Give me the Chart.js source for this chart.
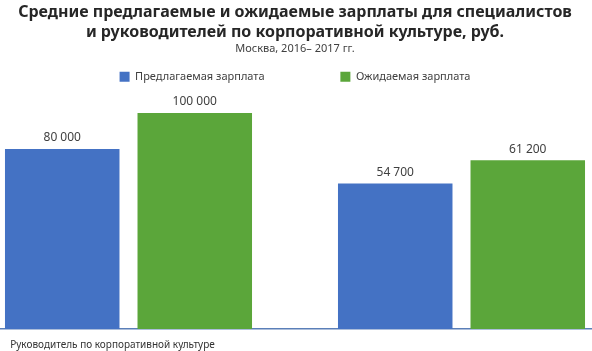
<!DOCTYPE html>
<html>
<head>
<meta charset="utf-8">
<script src="https://cdn.jsdelivr.net/npm/chart.js@4"></script>
<style>
    html, body { margin: 0; padding: 0; background: #fff; overflow: hidden; }
    #wrap { position: absolute; left: -38px; top: 0; width: 666px; height: 355px; }
</style>
</head>
<body>
<div id="wrap"><canvas id="salaryChart"></canvas></div>
<script>
    const categories = ['Руководитель по корпоративной культуре', ''];
    const seriesNames = ['Предлагаемая зарплата', 'Ожидаемая зарплата'];
    // bar heights (the picture's bars are not to the scale of their labels)
    const offeredValues = [83300, 67400];
    const expectedValues = [100000, 78100];
    // value labels as printed above the bars
    const offeredLabels = ['80 000', '54 700'];
    const expectedLabels = ['100 000', '61 200'];

    const FONT = '"Noto Sans", "DejaVu Sans", sans-serif';

    const barLabelsPlugin = {
        id: 'barLabels',
        afterDatasetsDraw(chart, args, opts) {
            const ctx = chart.ctx;
            ctx.save();
            ctx.fillStyle = opts.color || '#404040';
            ctx.font = `${opts.fontSize || 12}px ${FONT}`;
            ctx.textAlign = 'center';
            ctx.textBaseline = 'middle';
            chart.data.datasets.forEach((dataset, di) => {
                const meta = chart.getDatasetMeta(di);
                if (meta.hidden) return;
                meta.data.forEach((bar, i) => {
                    ctx.fillText(dataset.labelTexts[i], bar.x, bar.y - 11);
                });
            });
            ctx.restore();
        }
    };

    new Chart(document.getElementById('salaryChart'), {
        type: 'bar',
        plugins: [barLabelsPlugin],
        data: {
            labels: categories,
            datasets: [{
                label: seriesNames[0],
                data: offeredValues,
                labelTexts: offeredLabels,
                backgroundColor: '#4472C4',
                categoryPercentage: 0.796,
                barPercentage: 0.864
            }, {
                label: seriesNames[1],
                data: expectedValues,
                labelTexts: expectedLabels,
                backgroundColor: '#5BA63A',
                categoryPercentage: 0.796,
                barPercentage: 0.864
            }]
        },
        options: {
            responsive: true,
            maintainAspectRatio: false,
            animation: false,
            layout: { padding: { left: 0, right: 0, top: 2, bottom: 2 } },
            plugins: {
                title: {
                    display: true,
                    text: ['Средние предлагаемые и ожидаемые зарплаты для специалистов',
                           'и руководителей по корпоративной культуре, руб.'],
                    color: '#262626',
                    font: { family: FONT, size: 16, weight: 'bold', lineHeight: 1.25 },
                    padding: { top: 0, bottom: 0 }
                },
                subtitle: {
                    display: true,
                    text: 'Москва, 2016– 2017 гг.',
                    color: '#404040',
                    font: { family: FONT, size: 11 },
                    padding: { top: 0, bottom: 6 }
                },
                legend: {
                    position: 'top',
                    labels: {
                        boxWidth: 10,
                        boxHeight: 10,
                        padding: 10,
                        color: '#404040',
                        font: { family: FONT, size: 11 },
                        generateLabels(chart) {
                            const items = Chart.defaults.plugins.legend.labels.generateLabels(chart);
                            // wide gap between the two legend entries
                            if (items.length) items[0].text += ' '.repeat(23);
                            return items;
                        }
                    }
                },
                tooltip: { enabled: false },
                barLabels: { color: '#404040', fontSize: 12 }
            },
            scales: {
                x: {
                    grid: { display: false },
                    border: { display: true, color: '#5a7fb8', width: 1.5 },
                    ticks: {
                        color: '#333333',
                        font: { family: FONT, size: 10 },
                        labelOffset: -16,
                        padding: 2
                    }
                },
                y: {
                    display: false,
                    min: 0,
                    max: 109600
                }
            }
        }
    });
</script>
</body>
</html>
